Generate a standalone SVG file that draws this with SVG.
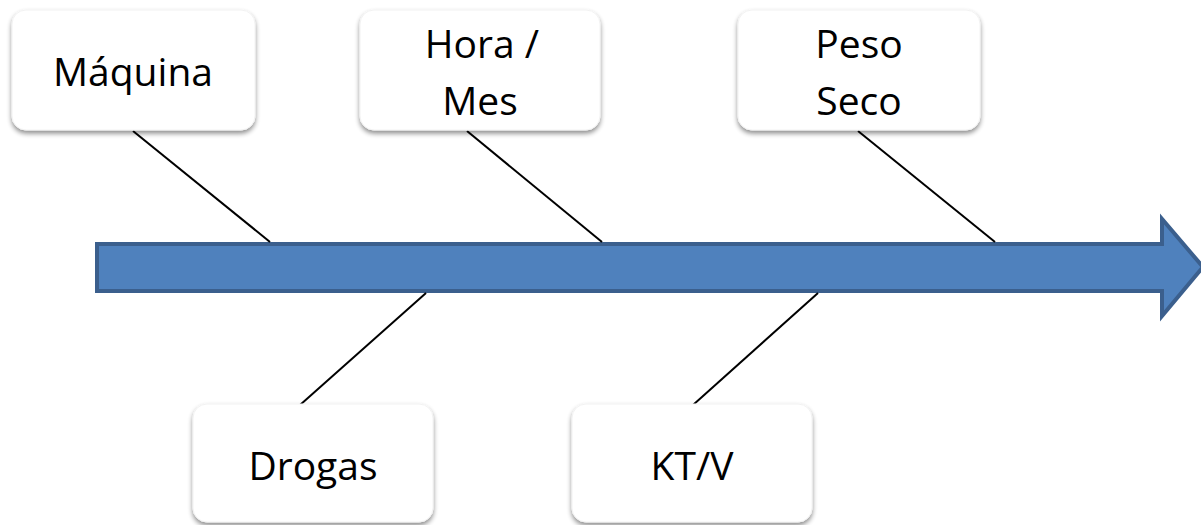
<svg xmlns="http://www.w3.org/2000/svg" width="1201" height="525" viewBox="0 0 1201 525">
  <defs>
    <filter id="shadow" x="-10%" y="-10%" width="120%" height="130%">
      <feGaussianBlur in="SourceAlpha" stdDeviation="2.5"/>
      <feOffset dx="0" dy="3" result="b"/>
      <feComponentTransfer><feFuncA type="linear" slope="0.45"/></feComponentTransfer>
      <feMerge><feMergeNode/><feMergeNode in="SourceGraphic"/></feMerge>
    </filter>
  </defs>
  <style>
    .box { fill: #ffffff; stroke: #f2f2f2; stroke-width: 1; filter: url(#shadow); }
    .label { font-family: "Open Sans", "Liberation Sans", sans-serif; font-size: 39px; fill: #000000; text-anchor: middle; }
    .bone { stroke: #000000; stroke-width: 2; fill: none; }
    .spine { fill: #4f81bd; stroke: #3b5f8d; stroke-width: 4; stroke-linejoin: miter; }
  </style>

  <rect width="1201" height="525" fill="#ffffff"/>

  <!-- main spine arrow -->
  <g id="spine">
    <path class="spine" d="M97,244 L1162,244 L1162,219 L1203,267 L1162,316 L1162,291 L97,291 Z"/>
  </g>

  <!-- branches joining causes to the spine -->
  <g id="connectors">
    <line class="bone" x1="133" y1="131" x2="270" y2="242"/>
    <line class="bone" x1="467" y1="131" x2="602" y2="242"/>
    <line class="bone" x1="858" y1="131" x2="995" y2="242"/>
    <line class="bone" x1="426" y1="293" x2="300" y2="405"/>
    <line class="bone" x1="818" y1="293" x2="693" y2="405"/>
  </g>

  <g id="maquina">
    <rect class="box" x="12" y="10" width="243" height="120" rx="14"/>
    <text class="label" x="133" y="86">Máquina</text>
  </g>

  <g id="hora-mes">
    <rect class="box" x="360" y="10" width="240" height="120" rx="14"/>
    <text class="label" x="482" y="58">Hora /</text>
    <text class="label" x="480" y="115">Mes</text>
  </g>

  <g id="peso-seco">
    <rect class="box" x="738" y="10" width="242" height="120" rx="14"/>
    <text class="label" x="859" y="58">Peso</text>
    <text class="label" x="859" y="115">Seco</text>
  </g>

  <g id="drogas">
    <rect class="box" x="193" y="404" width="240" height="118" rx="14"/>
    <text class="label" x="313" y="480">Drogas</text>
  </g>

  <g id="ktv">
    <rect class="box" x="572" y="404" width="240" height="118" rx="14"/>
    <text class="label" x="692" y="480">KT/V</text>
  </g>
</svg>
